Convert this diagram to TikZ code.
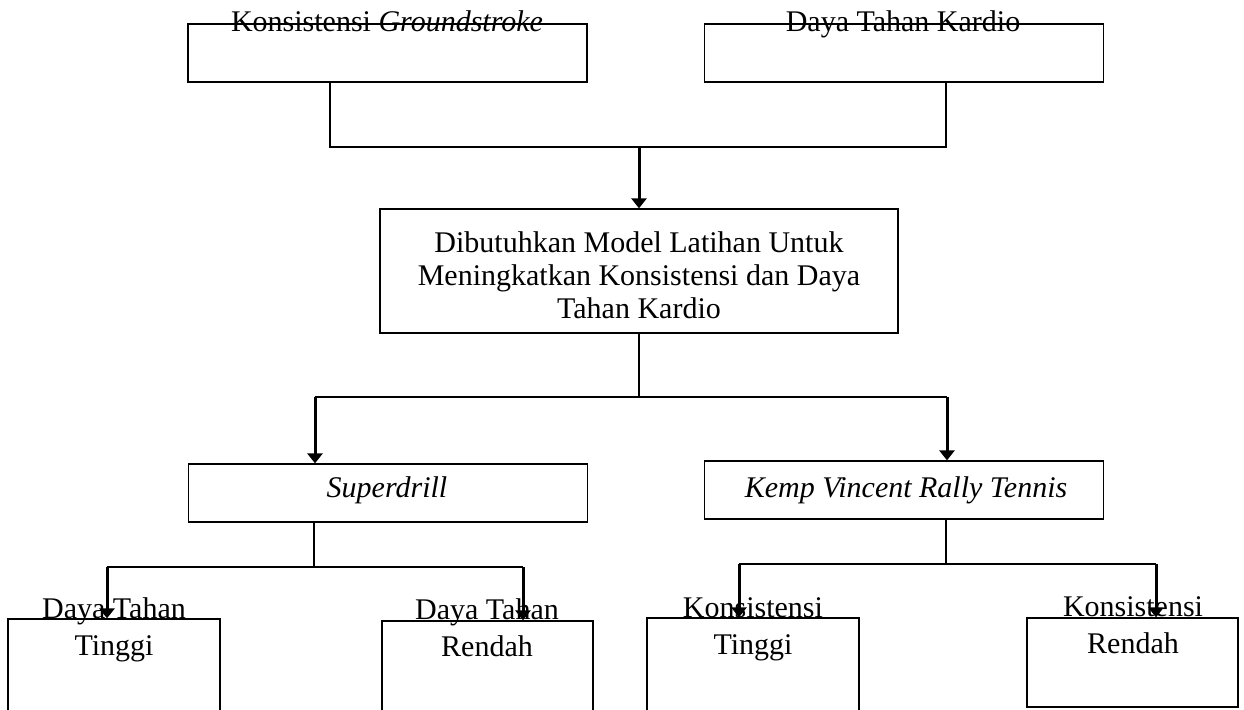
\documentclass[tikz,border=0pt]{standalone}
\usepackage{fontspec}
\setmainfont{Liberation Serif}
\usetikzlibrary{arrows.meta,calc}
\tikzset{
  box/.style={draw=black, rectangle, inner sep=0pt, line width=0.6pt},
  topbox/.style={box, minimum width=199.5pt, minimum height=29pt},
  leafbox/.style={box, minimum width=106pt},
  txt/.style={font=\fontsize{15}{16.5}\selectfont, inner sep=0pt, anchor=base,
    align=center, text=black},
  leaftxt/.style={txt, font=\fontsize{15}{18.5}\selectfont},
  link/.style={line width=0.6pt, draw=black},
  flow/.style={-{Triangle[length=5pt, width=7.5pt]}, line width=1.5pt, draw=black},
}

\begin{document}
\begin{tikzpicture}[x=0.5pt, y=-0.5pt]
  \path[use as bounding box, clip] (0,0) rectangle (1244,710);
  % top row
  \node[topbox] (kons) at (387.5,53) {};
  \node[topbox] (kardio) at (904,53) {};
  \node[txt] (konsT) at (387,32) {Konsistensi \textit{Groundstroke}};
  \node[txt] (kardioT) at (903,32) {Daya Tahan Kardio};
  % middle box
  \node[box, minimum width=259pt, minimum height=62pt] (model) at (639,271) {};
  \node[txt] (modelT) at (639,319)
       {Dibutuhkan Model Latihan Untuk\\Meningkatkan Konsistensi dan Daya\\Tahan Kardio};
  % the two drills
  \node[topbox] (drill) at (388,493) {};
  \node[topbox] (kemp) at (904,490) {};
  \node[txt] (drillT) at (387,498) {\textit{Superdrill}};
  \node[txt] (kempT) at (906,498) {\textit{Kemp Vincent Rally Tennis}};
  % leaves
  \node[leafbox, minimum height=60.5pt] (dtt) at (114,679.5) {};
  \node[leafbox, minimum width=105.5pt, minimum height=59.5pt] (dtr) at (487.5,680.5) {};
  \node[leafbox, minimum height=61pt] (kst) at (753,679) {};
  \node[leafbox, minimum width=105.5pt, minimum height=44.5pt] (ksr) at (1132.5,662.5) {};
  \node[leaftxt] (dttT) at (114,656) {Daya Tahan\\Tinggi};
  \node[leaftxt] (dtrT) at (487,657) {Daya Tahan\\Rendah};
  \node[leaftxt] (kstT) at (753,655) {Konsistensi\\Tinggi};
  \node[leaftxt] (ksrT) at (1133,654) {Konsistensi\\Rendah};

  % connectors
  \coordinate (jtop) at (639,147);
  \draw[link] ([xshift=-28.75pt]kons.south) |- (jtop) -| ([xshift=21pt]kardio.south);
  \draw[flow] (jtop) -- (model.north);

  \coordinate (jmid) at (639,397);
  \coordinate (jdrill) at (315,397);
  \coordinate (jkemp) at (947,397);
  \draw[link] (model.south) -- (jmid);
  \draw[link] (jdrill) -- (jkemp);
  \draw[flow] (jdrill) -- (jdrill |- drill.north);
  \draw[flow] (jkemp) -- (jkemp |- kemp.north);

  \coordinate (jd) at (314,567);
  \coordinate (jdT) at (107,567);
  \coordinate (jdR) at (523,567);
  \draw[link] (jd |- drill.south) -- (jd);
  \draw[link] (jdT) -- (jdR);
  \draw[flow] (jdT) -- (jdT |- dtt.north);
  \draw[flow] (jdR) -- (jdR |- dtr.north);

  \coordinate (jk) at (946,564);
  \coordinate (jkT) at (739,564);
  \coordinate (jkR) at (1156,564);
  \draw[link] (jk |- kemp.south) -- (jk);
  \draw[link] (jkT) -- (jkR);
  \draw[flow] (jkT) -- (jkT |- kst.north);
  \draw[flow] (jkR) -- (jkR |- ksr.north);
\end{tikzpicture}
\end{document}
